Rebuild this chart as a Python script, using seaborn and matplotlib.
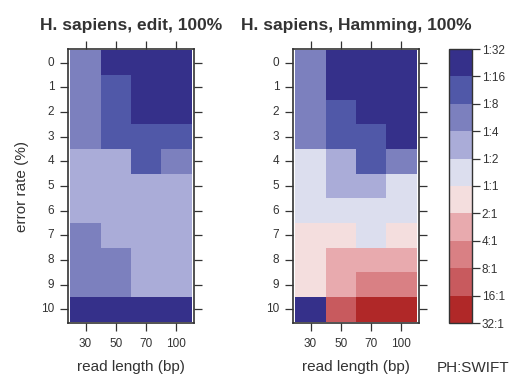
import numpy as np
import pandas as pd
import seaborn as sns
import matplotlib.pyplot as plt
from matplotlib.colors import ListedColormap

# error rate rows and read length columns
error_rates = [0, 1, 2, 3, 4, 5, 6, 7, 8, 9, 10]
read_lengths = [30, 50, 70, 100]

# log2(PH:SWIFT) ratio
edit_ratio = [
    [-2.5, -4.5, -4.5, -4.5],
    [-2.5, -3.5, -4.5, -4.5],
    [-2.5, -3.5, -4.5, -4.5],
    [-2.5, -3.5, -3.5, -3.5],
    [-1.5, -1.5, -3.5, -2.5],
    [-1.5, -1.5, -1.5, -1.5],
    [-1.5, -1.5, -1.5, -1.5],
    [-2.5, -1.5, -1.5, -1.5],
    [-2.5, -2.5, -1.5, -1.5],
    [-2.5, -2.5, -1.5, -1.5],
    [-4.5, -4.5, -4.5, -4.5],
]
hamming_ratio = [
    [-2.5, -4.5, -4.5, -4.5],
    [-2.5, -4.5, -4.5, -4.5],
    [-2.5, -3.5, -4.5, -4.5],
    [-2.5, -3.5, -3.5, -4.5],
    [-0.5, -1.5, -3.5, -2.5],
    [-0.5, -1.5, -1.5, -0.5],
    [-0.5, -0.5, -0.5, -0.5],
    [0.5, 0.5, -0.5, 0.5],
    [0.5, 1.5, 1.5, 1.5],
    [0.5, 1.5, 2.5, 2.5],
    [-4.5, 3.5, 4.5, 4.5],
]
titles = ["H. sapiens, edit, 100%", "H. sapiens, Hamming, 100%"]
cbar_labels = ["1:32", "1:16", "1:8", "1:4", "1:2", "1:1",
               "2:1", "4:1", "8:1", "16:1", "32:1"]

colors = ["#35308a", "#5058a8", "#7c80be", "#aaacd8", "#dcdeee",
          "#f4dede", "#e8aaae", "#d98084", "#c85a5e", "#b02828"]
cmap = ListedColormap(colors)

plt.rcParams['font.family'] = ['Liberation Sans', 'DejaVu Sans']
txt = "#333333"

W, H = 509, 376
fig = plt.figure(figsize=(W / 100, H / 100), dpi=100)


def px_axes(left, top, right, bottom):
    return fig.add_axes([left / W, 1 - bottom / H, (right - left) / W, (bottom - top) / H])


ax1 = px_axes(68, 49, 194, 323)
ax2 = px_axes(293, 49, 419, 323)
cax = px_axes(449, 49, 472, 323)

for i, (ax, data, title) in enumerate(zip([ax1, ax2], [edit_ratio, hamming_ratio], titles)):
    df = pd.DataFrame(data, index=error_rates, columns=read_lengths)
    sns.heatmap(df, ax=ax, cmap=cmap, vmin=-5, vmax=5,
                cbar=(i == 0), cbar_ax=cax if i == 0 else None)
    ax.set_xlim(-0.08, 4.08)
    ax.set_ylim(11.06, -0.06)
    ax.set_title(title, fontsize=12.5, fontweight='bold', color=txt, pad=14)
    ax.set_xlabel("read length (bp)", fontsize=11, color=txt, labelpad=7)
    ax.set_ylabel("error rate (%)" if i == 0 else "", fontsize=11, color=txt, labelpad=9)
    ax.tick_params(axis='both', which='both', length=5.5, width=0.9, color=txt,
                   labelsize=8.5, labelcolor=txt, direction='out',
                   top=True, right=True)
    ax.tick_params(axis='x', pad=5.5)
    ax.tick_params(axis='y', pad=4.3, rotation=0)
    for s in ax.spines.values():
        s.set_visible(True)
        s.set_linewidth(1.2)
        s.set_color(txt)

cb = ax1.collections[0].colorbar
cb.set_ticks(np.arange(-5, 6))
cb.set_ticklabels(cbar_labels)
cax.invert_yaxis()
cax.tick_params(length=5.5, width=0.9, color=txt, labelsize=8.5, labelcolor=txt, pad=1.5)
cb.outline.set_visible(True)
cb.outline.set_linewidth(1.0)
cb.outline.set_edgecolor(txt)
cax.set_xlabel("PH:SWIFT", fontsize=11, color=txt)
cax.xaxis.set_label_coords(1.05, -0.14)

fig.savefig("out.png", dpi=100)
